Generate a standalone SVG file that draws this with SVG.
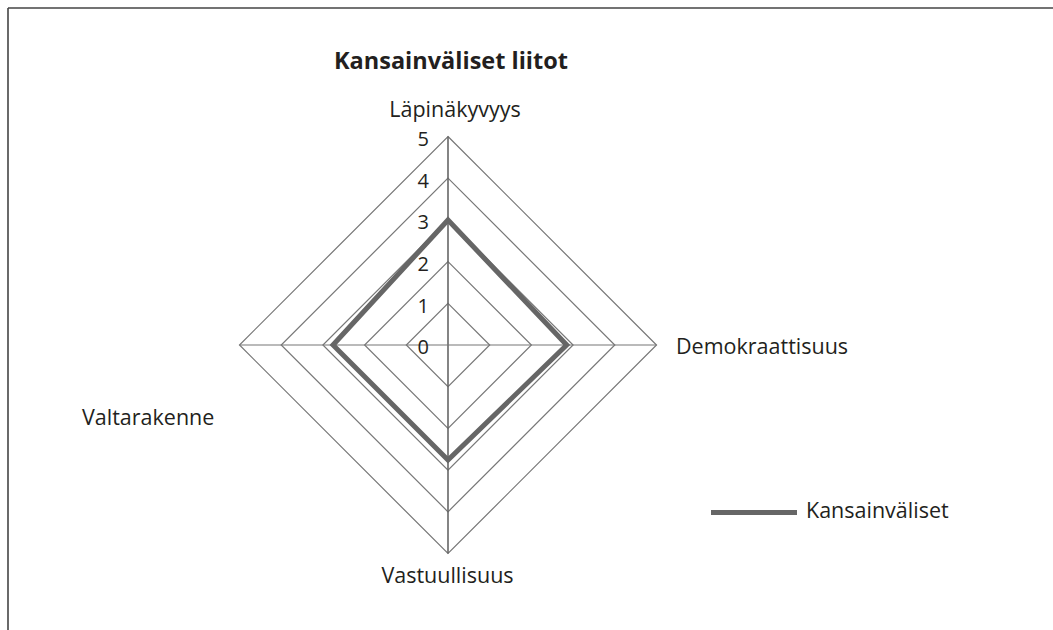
<svg xmlns="http://www.w3.org/2000/svg" width="1053" height="630" viewBox="0 0 1053 630">
<style>
.grid{fill:none;stroke:#777;stroke-width:1.2}
.axis{stroke:#666;stroke-width:1.6}
.lbl{font-family:"Open Sans","Noto Sans",sans-serif;font-size:21.5px;fill:#231f20}
.num{font-family:"Open Sans","Noto Sans",sans-serif;font-size:20px;fill:#231f20;text-anchor:end}
.data{fill:none;stroke:#666;stroke-width:5;stroke-linejoin:miter}
</style>
<rect width="1053" height="630" fill="#fff"/>
<g id="frame" fill="none" stroke="#444">
<line x1="8" y1="8" x2="1053" y2="8" stroke-width="1.6"/>
<line x1="8" y1="8" x2="8" y2="630" stroke-width="1.6"/>
</g>
<g id="title"><text x="451" y="69" text-anchor="middle" font-family="'Open Sans','Noto Sans',sans-serif" font-size="23.5" font-weight="bold" fill="#231f20">Kansainväliset liitot</text></g>
<g id="grid">
<polygon class="grid" points="448,303.3 489.7,345 448,386.7 406.3,345"/>
<polygon class="grid" points="448,261.6 531.4,345 448,428.4 364.6,345"/>
<polygon class="grid" points="448,219.9 573.1,345 448,470.1 322.9,345"/>
<polygon class="grid" points="448,178.2 614.8,345 448,511.8 281.2,345"/>
<polygon class="grid" points="448,136.5 656.5,345 448,553.5 239.5,345"/>
<line class="axis" x1="448" y1="136.5" x2="448" y2="553.5"/>
<line class="grid" x1="239.5" y1="345" x2="656.5" y2="345"/>
</g>
<g id="ticks">
<text class="num" x="429" y="146">5</text>
<text class="num" x="429" y="188">4</text>
<text class="num" x="429" y="229">3</text>
<text class="num" x="429" y="271">2</text>
<text class="num" x="429" y="313">1</text>
<text class="num" x="429" y="354">0</text>
</g>
<g id="labels">
<text class="lbl" x="455" y="117" text-anchor="middle">Läpinäkyvyys</text>
<text class="lbl" x="676" y="354">Demokraattisuus</text>
<text class="lbl" x="447.5" y="583" text-anchor="middle">Vastuullisuus</text>
<text class="lbl" x="82" y="425">Valtarakenne</text>
</g>
<g id="series">
<polygon class="data" points="448,220 566.7,345 448,460 333,345"/>
</g>
<g id="legend">
<line x1="711" y1="512.5" x2="797" y2="512.5" stroke="#666" stroke-width="5"/>
<text class="lbl" x="806" y="518">Kansainväliset</text>
</g>
</svg>
